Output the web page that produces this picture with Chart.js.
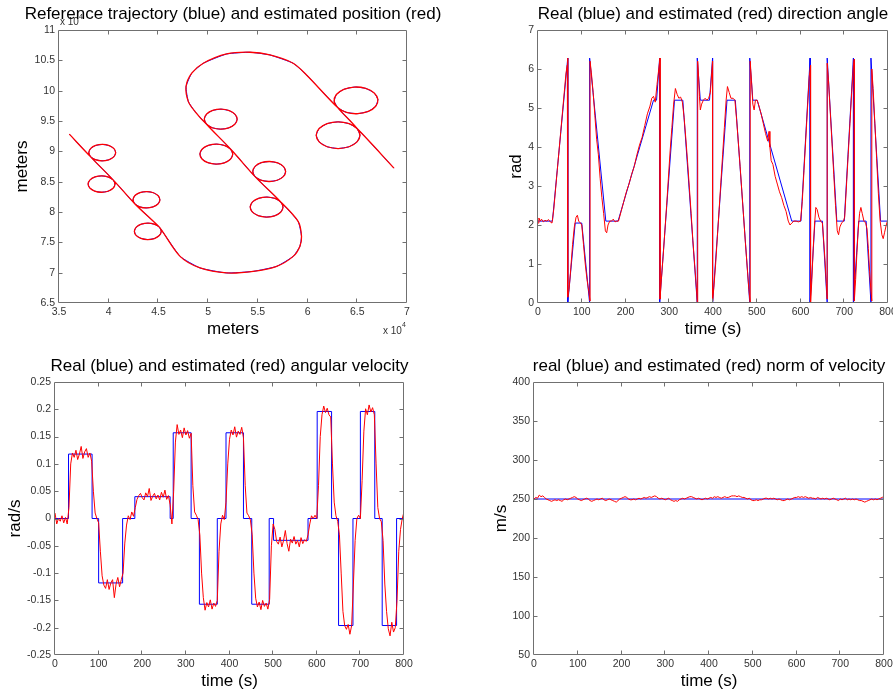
<!DOCTYPE html>
<html>
<head>
<meta charset="utf-8">
<script src="https://cdn.jsdelivr.net/npm/chart.js@4.4.1/dist/chart.umd.min.js"></script>
<style>
  html, body { margin: 0; padding: 0; background: #ffffff; }
  #wrap { position: relative; width: 893px; height: 696px; overflow: hidden; background: #ffffff; }
  #wrap canvas { position: absolute; }
</style>
</head>
<body>
<div id="wrap">
  <canvas id="cTraj" width="446" height="348" style="left:0px;top:0px"></canvas>
  <canvas id="cHead" width="470" height="348" style="left:446px;top:0px"></canvas>
  <canvas id="cOmega" width="446" height="348" style="left:0px;top:348px"></canvas>
  <canvas id="cSpeed" width="470" height="348" style="left:446px;top:348px"></canvas>
</div>
<script>
// ---------- trajectory (metres): reference path, in flight order ----------
const trajEast = [68690,
  64975,64170,63070,61970,61165,60870,61165,61970,63070,64170,64975,65270,64975,
  63051,62680,62897,63645,64721,65839,66699,67071,66853,66105,65029,63911,63051,
  59894,58550,56212,54203,51864,49515,48351,47778,48010,48682,
  49822,50416,51238,52066,52680,52916,52710,52116,51294,50466,49852,49616,49822,
  52267,52473,52237,51623,50795,49973,49379,49173,49409,50023,50851,51673,52267,
  54698,55292,56114,56942,57556,57792,57586,56992,56170,55342,54728,54492,54698,
  57323,57529,57293,56679,55851,55029,54435,54229,54465,55079,55907,56729,57323,
  59051,59392,59224,58552,56886,54537,51866,49187,47180,
  45113,44627,43955,43277,42775,42582,42751,43237,43909,44587,45089,45282,45113,
  42616,42447,42640,43142,43820,44492,44978,45147,44954,44452,43774,43102,42616,
  40460,39974,39302,38624,38122,37929,38098,38584,39256,39934,40436,40629,40460,
  38168,37999,38192,38694,39372,40044,40530,40699,40506,40004,39326,38654,38168,
  36037];
const trajNorth = [87230,
  93760,94565,94860,94565,93760,92660,91560,90755,90460,90755,91560,92660,93760,
  97170,98246,99364,100224,100596,100378,99630,98554,97436,96576,96204,96422,97170,
  102593,104519,105885,106330,106050,104519,102873,100667,98198,96552,
  94501,93887,93651,93857,94451,95273,96101,96715,96951,96745,96151,95329,94501,
  90340,89512,88690,88096,87890,88126,88740,89568,90390,90984,91190,90954,90340,
  85876,85262,85026,85232,85826,86648,87476,88090,88326,88120,87526,86704,85876,
  81616,80788,79966,79372,79166,79402,80016,80844,81666,82260,82466,82230,81616,
  78446,75977,74331,72685,71039,70216,69953,70776,72685,
  77464,77966,78159,77990,77504,76832,76154,75652,75459,75628,76114,76786,77464,
  81363,82041,82713,83199,83368,83175,82673,81995,81323,80837,80668,80861,81363,
  85257,85759,85952,85783,85297,84625,83947,83445,83252,83421,83907,84579,85257,
  89132,89810,90482,90968,91137,90944,90442,89764,89092,88606,88437,88630,89132,
  92832];

// ---------- direction angle (rad): reference breakpoints and estimate ----------
const headingRef = [[0,2.1],[33,2.1],[68,6.28],[68,0],[85,2.05],[100,2.05],[118,0],[118,6.28],
  [155,2.1],[183,2.1],[264,5.2],[271,5.2],[278,6.28],[278,0],[312,5.2],[331,5.2],[364,0],[364,6.28],
  [371,5.2],[392,5.2],[399,6.28],[399,0],[432,5.2],[451,5.2],[484,0],[484,6.28],[491,5.2],[501,5.2],
  [580,2.1],[601,2.1],[622,6.28],[622,0],[633,2.1],[650,2.1],[661,0],[661,6.28],[683,2.1],[700,2.1],
  [721,6.28],[721,0],[733,2.1],[750,2.1],[761,0],[761,6.28],[783,2.1],[800,2.1]];
const headingEst = [[0,2.05],[2,2.18],[5,2.1],[8,2.15],[12,2.08],[16,2.12],[20,2.1],[24,2.14],[28,2.08],
  [32,2.05],[36,2.4],[40,2.9],[44,3.4],[48,3.9],[52,4.4],[56,4.9],[60,5.4],[64,5.9],[67,6.1],[68,6.28],
  [68,0.15],[71,0.35],[75,0.9],[79,1.5],[83,1.95],[87,2.2],[90,2.25],[93,2.1],[97,2.05],[100,2.0],
  [104,1.5],[108,1.0],[112,0.6],[116,0.3],[119,0.05],[119,6.2],[122,5.9],[126,5.4],[130,4.8],[134,4.2],
  [138,3.8],[142,3.2],[146,2.7],[150,2.3],[154,1.85],[157,1.8],[160,2.0],[164,2.1],[168,2.1],[172,2.15],
  [176,2.08],[180,2.1],[184,2.1],[190,2.35],[196,2.6],[202,2.85],[208,3.05],[214,3.3],[220,3.5],[226,3.8],
  [232,4.05],[238,4.25],[244,4.55],[250,4.85],[256,5.05],[260,5.25],[264,5.3],[268,5.15],[272,5.6],[276,6.0],
  [279,6.28],[279,0.1],[282,0.6],[286,1.2],[290,1.85],[294,2.5],[298,3.2],[302,3.9],[306,4.5],[310,5.1],
  [314,5.5],[318,5.35],[322,5.25],[326,5.28],[330,5.15],[334,4.75],[338,4.2],[342,3.6],[346,2.95],[350,2.3],
  [354,1.6],[358,1.0],[362,0.4],[364,0.0],[365,6.2],[367,5.8],[369,5.3],[371,4.95],[374,5.1],[378,5.2],
  [382,5.25],[386,5.2],[390,5.25],[394,5.4],[397,5.9],[399,6.2],[399,0.05],[402,0.4],[406,1.0],[410,1.7],
  [414,2.4],[418,3.1],[422,3.8],[426,4.5],[430,5.2],[433,5.55],[437,5.4],[441,5.25],[446,5.25],[450,5.2],
  [454,4.7],[458,4.1],[462,3.5],[466,2.85],[470,2.2],[474,1.55],[478,0.95],[482,0.35],[485,0.0],[485,6.2],
  [488,5.7],[491,5.1],[494,4.95],[497,5.2],[501,5.2],[505,5.05],[510,4.85],[515,4.6],[520,4.35],[525,4.15],
  [528,4.4],[530,4.0],[533,3.65],[537,3.55],[542,3.25],[547,3.05],[552,2.85],[557,2.7],[562,2.5],[567,2.35],
  [572,2.1],[576,2.0],[580,2.05],[585,2.1],[590,2.1],[595,2.08],[600,2.1],[604,2.6],[608,3.4],[612,4.2],
  [616,5.0],[620,5.8],[623,6.1],[623,0.0],[626,0.6],[629,1.4],[632,2.0],[635,2.45],[638,2.4],[642,2.2],
  [646,2.1],[650,2.05],[653,1.6],[656,1.1],[659,0.5],[661,0.1],[661,6.15],[664,5.7],[668,4.9],[672,4.1],
  [676,3.3],[680,2.5],[684,1.85],[687,1.75],[690,1.95],[694,2.05],[698,2.1],[701,2.2],[705,3.0],[709,3.8],
  [713,4.6],[717,5.4],[721,6.1],[723,6.25],[723,0.05],[726,0.6],[729,1.3],[732,1.9],[735,2.3],[738,2.45],
  [741,2.3],[745,2.1],[749,2.05],[752,1.9],[755,1.4],[758,0.8],[761,0.3],[763,0.05],[763,6.0],[766,5.5],
  [770,4.6],[774,3.7],[778,2.8],[782,2.1],[786,1.75],[789,1.65],[792,1.8],[796,2.0],[800,2.15]];

// ---------- angular velocity (rad/s): commanded steps and estimate ----------
const omegaStepT = [0,31,85,100,155,183,264,271,312,331,372,392,432,451,491,501,580,601,634,650,683,700,733,750,783,800];
const omegaStepV = [0,0.118,0,-0.118,0,0.04,0,0.157,0,-0.157,0,0.157,0,-0.157,0,-0.04,0,0.196,0,-0.196,0,0.196,0,-0.196,0,0];
// estimate sampled every 4 s from 0 to 800 s
const omegaEst = [
  0.01,-0.01,0,-0.005,0.005,-0.008,0.002,-0.01,0.02,
  0.1,0.12,0.112,0.125,0.108,0.118,0.132,0.11,0.122,0.128,0.112,0.12,0.105,
  0.05,0.01,0,-0.008,
  -0.06,-0.105,-0.122,-0.128,-0.112,-0.13,-0.118,-0.112,-0.145,-0.12,-0.108,-0.125,-0.112,-0.1,
  -0.045,-0.012,0.005,-0.002,0.012,0.004,
  0.02,0.035,0.042,0.046,0.038,0.034,0.047,0.04,0.055,0.033,0.041,0.046,0.036,0.043,0.034,0.048,0.039,0.052,0.035,0.042,0.025,
  -0.01,
  0.05,0.14,0.172,0.154,0.162,0.148,0.166,0.153,0.161,0.147,0.156,
  0.06,0.012,0.006,-0.002,
  -0.03,-0.1,-0.145,-0.168,-0.154,-0.162,-0.149,-0.166,-0.155,-0.161,-0.15,
  -0.06,-0.01,0.006,-0.002,
  0.03,0.1,0.145,0.162,0.153,0.168,0.149,0.16,0.154,0.167,0.148,
  0.06,0.01,0.005,-0.003,
  -0.03,-0.1,-0.146,-0.162,-0.153,-0.167,-0.15,-0.161,-0.155,-0.166,-0.148,
  -0.05,-0.01,
  -0.02,-0.042,-0.047,-0.034,-0.052,-0.04,-0.022,-0.046,-0.06,-0.038,-0.045,-0.033,-0.047,-0.04,-0.052,-0.035,-0.046,-0.039,-0.042,-0.03,
  -0.01,0.005,0,0.006,0,
  0.06,0.15,0.19,0.206,0.194,0.202,0.19,0.186,
  0.1,0.03,0.005,-0.005,
  -0.03,-0.1,-0.17,-0.196,-0.203,-0.194,-0.212,-0.196,
  -0.12,-0.04,0,0.006,0,
  0.07,0.16,0.201,0.19,0.208,0.195,0.203,0.19,
  0.1,0.02,0,-0.006,
  -0.04,-0.12,-0.17,-0.202,-0.215,-0.19,-0.208,-0.2,
  -0.15,-0.06,-0.02,0,0.012];

// ---------- speed norm (m/s) ----------
const speedRef = [[0,250],[800,250]];
const speedEst = [
  250,252,251,255,253,254,252,250,249,248,247,248,249,248,249,248,247,249,250,249,
  250,251,252,253,252,250,249,248,249,250,251,250,248,247,248,249,250,249,250,251,
  249,248,249,250,249,248,247,246,248,250,251,252,253,252,250,249,249,250,249,250,
  251,250,251,252,251,252,253,252,253,254,253,251,250,251,250,249,250,251,249,248,
  247,248,247,249,250,251,250,251,252,253,253,252,251,250,251,250,249,250,251,250,
  251,252,251,253,252,253,252,251,252,253,252,252,253,254,254,254,253,254,253,252,
  252,251,250,251,249,248,248,249,248,249,249,250,251,251,250,251,250,251,250,249,
  250,249,248,248,249,250,249,250,251,252,252,253,252,253,252,253,252,251,252,251,
  251,250,252,251,250,251,250,251,250,249,250,251,250,249,248,250,249,250,251,249,
  250,249,250,249,250,249,248,248,247,246,247,248,249,250,249,250,249,250,251,252,
  254];

// ---------- tick values ----------
const trajTicksX = [35000,40000,45000,50000,55000,60000,65000,70000];
const trajTicksY = [65000,70000,75000,80000,85000,90000,95000,100000,105000,110000];
const timeTicks = [0,100,200,300,400,500,600,700,800];
const headingTicks = [0,1,2,3,4,5,6,7];
const omegaTicks = [-0.25,-0.2,-0.15,-0.1,-0.05,0,0.05,0.1,0.15,0.2,0.25];
const speedTicks = [50,100,150,200,250,300,350,400];

// ---------- drawing setup ----------
const FONT = '"Liberation Sans", Arial, Helvetica, sans-serif';
const BLUE = '#0000ff', RED = '#ff0000';
const FRAME = '#707070', TICKTXT = '#333333';
Chart.defaults.font.family = FONT;
Chart.defaults.font.size = 10.5;
Chart.defaults.color = TICKTXT;

const sampleTimes = [];
for (let t = 0; t <= 800; t += 4) sampleTimes.push(t);

const xy = (xs, ys) => xs.map((x, i) => ({ x: x, y: ys[i] }));
const pairs = arr => arr.map(p => ({ x: p[0], y: p[1] }));
const fmtNum = v => String(Number(v.toFixed(4)));

function drawLabel(ctx, t) {
  ctx.save();
  ctx.font = t.font;
  ctx.fillStyle = t.color || '#000000';
  ctx.textAlign = t.align || 'center';
  ctx.textBaseline = t.baseline || 'middle';
  ctx.translate(t.x, t.y);
  if (t.rotate) ctx.rotate(t.rotate);
  ctx.fillText(t.text, 0, 0);
  ctx.restore();
}

// box frame with inward tick marks on all four sides, plus titles
const boxFrame = {
  id: 'boxFrame',
  afterDraw(chart, args, opts) {
    const { ctx, chartArea: a, scales } = chart;
    const L = Math.round(a.left) - 0.5, R = Math.round(a.right) - 0.5;
    const T = Math.round(a.top) + 0.5, B = Math.round(a.bottom) - 0.5;
    const tl = 4;
    ctx.save();
    ctx.strokeStyle = FRAME;
    ctx.lineWidth = 1;
    ctx.beginPath();
    ctx.rect(L, T, R - L, B - T);
    scales.x.ticks.forEach(tk => {
      if (tk.value <= scales.x.min || tk.value >= scales.x.max) return;
      const px = Math.round(scales.x.getPixelForValue(tk.value)) - 0.5;
      ctx.moveTo(px, B); ctx.lineTo(px, B - tl);
      ctx.moveTo(px, T); ctx.lineTo(px, T + tl);
    });
    scales.y.ticks.forEach(tk => {
      if (tk.value <= scales.y.min || tk.value >= scales.y.max) return;
      const py = Math.round(scales.y.getPixelForValue(tk.value)) + 0.5;
      ctx.moveTo(L, py); ctx.lineTo(L + tl, py);
      ctx.moveTo(R, py); ctx.lineTo(R - tl, py);
    });
    ctx.stroke();
    ctx.restore();
    (opts.labels || []).forEach(t => drawLabel(ctx, t));
  }
};

function makePanel(id, p) {
  const cv = document.getElementById(id);
  const W = cv.width, H = cv.height;
  const a = p.area;
  return new Chart(cv, {
    type: 'scatter',
    data: { datasets: p.datasets },
    options: {
      responsive: false,
      animation: false,
      devicePixelRatio: 1,
      events: [],
      layout: { padding: { left: 0, top: a.top, right: W - a.right, bottom: 0 } },
      elements: { point: { radius: 0 }, line: { borderWidth: 1, tension: 0 } },
      plugins: {
        legend: { display: false },
        tooltip: { enabled: false },
        title: { display: false },
        boxFrame: { labels: p.labels }
      },
      scales: {
        x: {
          type: 'linear', min: p.x.min, max: p.x.max,
          afterFit: s => { s.height = H - a.bottom; },
          afterBuildTicks: s => { s.ticks = p.x.ticks.map(v => ({ value: v })); },
          grid: { display: false, drawTicks: false },
          border: { display: false },
          ticks: { autoSkip: false, maxRotation: 0, minRotation: 0, padding: 3, callback: p.x.fmt }
        },
        y: {
          type: 'linear', min: p.y.min, max: p.y.max,
          afterFit: s => { s.width = a.left; },
          afterBuildTicks: s => { s.ticks = p.y.ticks.map(v => ({ value: v })); },
          grid: { display: false, drawTicks: false },
          border: { display: false },
          ticks: { autoSkip: false, padding: 4, callback: p.y.fmt }
        }
      }
    },
    plugins: [boxFrame]
  });
}

const TITLE = '17px ' + FONT;
const AXLAB = '17px ' + FONT;
const SMALL = '10px ' + FONT;
const SUP = '7px ' + FONT;
const UP = -Math.PI / 2;

// trajectory panel
makePanel('cTraj', {
  area: { left: 59, top: 30, right: 407, bottom: 303 },
  x: { min: 35000, max: 70000, ticks: trajTicksX, fmt: v => fmtNum(v / 1e4) },
  y: { min: 65000, max: 110000, ticks: trajTicksY, fmt: v => fmtNum(v / 1e4) },
  datasets: [
    { label: 'estimated', data: xy(trajEast, trajNorth), showLine: true, borderColor: RED, borderWidth: 1.3, tension: 0.3, order: 0 },
    { label: 'reference', data: xy(trajEast, trajNorth), showLine: true, borderColor: BLUE, borderWidth: 1, tension: 0.15, order: 1 }
  ],
  labels: [
    { text: 'x 10', x: 60, y: 22, font: SMALL, color: TICKTXT, align: 'left' },
    { text: '4', x: 79, y: 17, font: SUP, color: TICKTXT, align: 'left' },
    { text: 'Reference trajectory (blue) and estimated position (red)', x: 233, y: 14, font: TITLE },
    { text: 'meters', x: 233, y: 329, font: AXLAB },
    { text: 'meters', x: 22, y: 166.5, font: AXLAB, rotate: UP },
    { text: 'x 10', x: 383, y: 331, font: SMALL, color: TICKTXT, align: 'left' },
    { text: '4', x: 402, y: 325, font: SUP, color: TICKTXT, align: 'left' }
  ]
});

// direction angle panel
makePanel('cHead', {
  area: { left: 92, top: 30, right: 442, bottom: 303 },
  x: { min: 0, max: 800, ticks: timeTicks, fmt: v => fmtNum(v) },
  y: { min: 0, max: 7, ticks: headingTicks, fmt: v => fmtNum(v) },
  datasets: [
    { label: 'estimated', data: pairs(headingEst), showLine: true, borderColor: RED, borderWidth: 1, order: 0 },
    { label: 'real', data: pairs(headingRef), showLine: true, borderColor: BLUE, borderWidth: 1, order: 1 }
  ],
  labels: [
    { text: 'Real (blue) and estimated (red) direction angle', x: 267, y: 14, font: TITLE },
    { text: 'time (s)', x: 267, y: 329, font: AXLAB },
    { text: 'rad', x: 70.5, y: 166.5, font: AXLAB, rotate: UP }
  ]
});

// angular velocity panel
makePanel('cOmega', {
  area: { left: 55, top: 34, right: 404, bottom: 307 },
  x: { min: 0, max: 800, ticks: timeTicks, fmt: v => fmtNum(v) },
  y: { min: -0.25, max: 0.25, ticks: omegaTicks, fmt: v => fmtNum(v) },
  datasets: [
    { label: 'estimated', data: xy(sampleTimes, omegaEst), showLine: true, borderColor: RED, borderWidth: 1, order: 0 },
    { label: 'real', data: xy(omegaStepT, omegaStepV), showLine: true, stepped: 'before', borderColor: BLUE, borderWidth: 1, order: 1 }
  ],
  labels: [
    { text: 'Real (blue) and estimated (red) angular velocity', x: 229.5, y: 18, font: TITLE },
    { text: 'time (s)', x: 229.5, y: 333.5, font: AXLAB },
    { text: 'rad/s', x: 15, y: 170.5, font: AXLAB, rotate: UP }
  ]
});

// speed norm panel
makePanel('cSpeed', {
  area: { left: 88, top: 34, right: 438, bottom: 307 },
  x: { min: 0, max: 800, ticks: timeTicks, fmt: v => fmtNum(v) },
  y: { min: 50, max: 400, ticks: speedTicks, fmt: v => fmtNum(v) },
  datasets: [
    { label: 'estimated', data: xy(sampleTimes, speedEst), showLine: true, borderColor: RED, borderWidth: 1, order: 0 },
    { label: 'real', data: pairs(speedRef), showLine: true, borderColor: BLUE, borderWidth: 1, order: 1 }
  ],
  labels: [
    { text: 'real (blue) and estimated (red) norm of velocity', x: 263, y: 18, font: TITLE },
    { text: 'time (s)', x: 263, y: 333.5, font: AXLAB },
    { text: 'm/s', x: 55.5, y: 170.5, font: AXLAB, rotate: UP }
  ]
});
</script>
</body>
</html>
